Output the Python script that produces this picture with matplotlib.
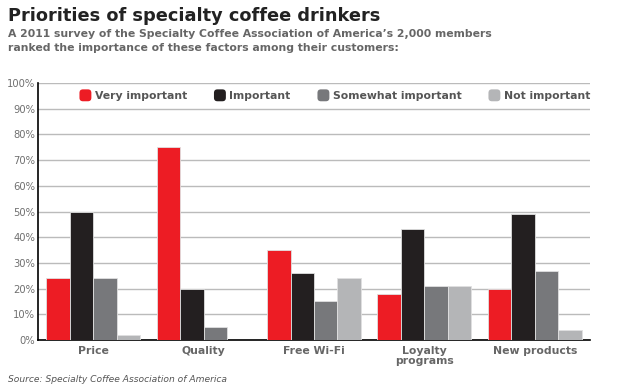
import numpy as np
import matplotlib.pyplot as plt
from matplotlib.patches import FancyBboxPatch, Patch
from matplotlib.legend_handler import HandlerPatch

categories = ['Price', 'Quality', 'Free Wi-Fi', 'Loyalty\nprograms', 'New products']
series = ['Very important', 'Important', 'Somewhat important', 'Not important']
very_important = [24, 75, 35, 18, 20]
important = [50, 20, 26, 43, 49]
somewhat_important = [24, 5, 15, 21, 27]
not_important = [2, 0, 24, 21, 4]
colors = ['#ED1C24', '#231F20', '#77787B', '#B4B5B7']

values = [very_important, important, somewhat_important, not_important]

fig = plt.figure(figsize=(6.24, 3.9), dpi=100)
ax = fig.add_axes([38 / 624, 50 / 390, 552 / 624, 257 / 390])

x = np.arange(len(categories))
w = 0.85 / 4
for i, (vals, c) in enumerate(zip(values, colors)):
    ax.bar(x + (i - 1.5) * w, vals, w, color=c, edgecolor='#E0E0E0',
           linewidth=0.6, zorder=3)

ax.set_xlim(-0.5, len(categories) - 0.5)
ax.set_ylim(0, 100)
ax.set_yticks(range(0, 101, 10))
ax.set_yticklabels([f'{v}%' for v in range(0, 101, 10)], color='#707070', fontsize=7.2)
ax.set_xticks(x)
ax.set_xticklabels(categories, fontsize=7.8, fontweight='bold', color='#666666',
                   linespacing=1.0)
ax.tick_params(axis='x', length=0, pad=4)
ax.tick_params(axis='y', length=0, pad=2)
ax.grid(axis='y', color='#BBBBBB', linewidth=1, zorder=0)
for s in ['top', 'right']:
    ax.spines[s].set_visible(False)
ax.spines['left'].set_color('black')
ax.spines['bottom'].set_color('black')
ax.spines['left'].set_linewidth(1.2)
ax.spines['bottom'].set_linewidth(1.2)


class RoundHandler(HandlerPatch):
    def create_artists(self, legend, orig_handle, xdescent, ydescent,
                       width, height, fontsize, trans):
        s = width
        p = FancyBboxPatch((0, -ydescent + (height - s) / 2), s, s,
                           boxstyle='round,pad=0,rounding_size=2.5',
                           facecolor=orig_handle.get_facecolor(),
                           edgecolor='none', transform=trans)
        return [p]


handles = [Patch(facecolor=c, label=s) for c, s in zip(colors, series)]
leg = ax.legend(handles=handles, ncol=4, loc='center right',
                bbox_to_anchor=(1.0, 0.949), frameon=False, fontsize=7.8,
                handlelength=1.1, handletextpad=0.3, columnspacing=2.5,
                borderpad=0, borderaxespad=0,
                handler_map={Patch: RoundHandler()})
for t in leg.get_texts():
    t.set_color('#555555')
    t.set_fontweight('bold')

fig.text(8 / 624, 1 - 16 / 390, 'Priorities of specialty coffee drinkers',
         fontsize=12.8, fontweight='bold', color='#222222', va='center')
fig.text(8 / 624, 1 - 41 / 390,
         'A 2011 survey of the Specialty Coffee Association of America\u2019s 2,000 members\n'
         'ranked the importance of these factors among their customers:',
         fontsize=7.8, fontweight='bold', color='#666666', va='center', linespacing=1.4)
fig.text(8 / 624, 1 - 380 / 390, 'Source: Specialty Coffee Association of America',
         fontsize=6.6, style='italic', color='#555555', va='center')

fig.savefig('out.png', dpi=100)
